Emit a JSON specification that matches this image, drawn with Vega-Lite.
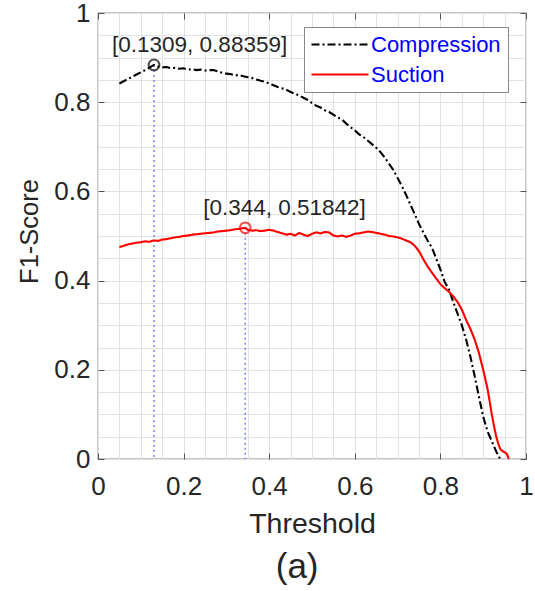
{
  "$schema": "https://vega.github.io/schema/vega-lite/v6.json",
  "width": 428,
  "height": 446,
  "autosize": {"type": "none"},
  "padding": {"left": 98, "top": 13, "right": 9, "bottom": 132},
  "background": "white",
  "config": {
    "font": "Liberation Sans",
    "view": {"stroke": "#8c8c8c", "strokeWidth": 1.3}
  },
  "title": {
    "text": "(a)",
    "orient": "bottom",
    "frame": "bounds",
    "anchor": "middle",
    "baseline": "top",
    "offset": 12,
    "dx": 22,
    "font": "Liberation Sans",
    "fontSize": 35,
    "fontWeight": "normal",
    "color": "#262626"
  },
  "datasets": {
    "curves": [
      {"t": 0.05, "f": 0.842, "series": "Compression"},
      {"t": 0.07, "f": 0.852, "series": "Compression"},
      {"t": 0.09, "f": 0.862, "series": "Compression"},
      {"t": 0.11, "f": 0.872, "series": "Compression"},
      {"t": 0.1309, "f": 0.88359, "series": "Compression"},
      {"t": 0.14, "f": 0.880, "series": "Compression"},
      {"t": 0.15, "f": 0.878, "series": "Compression"},
      {"t": 0.16, "f": 0.879, "series": "Compression"},
      {"t": 0.17, "f": 0.876, "series": "Compression"},
      {"t": 0.18, "f": 0.877, "series": "Compression"},
      {"t": 0.19, "f": 0.875, "series": "Compression"},
      {"t": 0.20, "f": 0.876, "series": "Compression"},
      {"t": 0.21, "f": 0.873, "series": "Compression"},
      {"t": 0.22, "f": 0.874, "series": "Compression"},
      {"t": 0.23, "f": 0.872, "series": "Compression"},
      {"t": 0.24, "f": 0.873, "series": "Compression"},
      {"t": 0.25, "f": 0.871, "series": "Compression"},
      {"t": 0.26, "f": 0.872, "series": "Compression"},
      {"t": 0.27, "f": 0.872, "series": "Compression"},
      {"t": 0.28, "f": 0.869, "series": "Compression"},
      {"t": 0.29, "f": 0.866, "series": "Compression"},
      {"t": 0.30, "f": 0.864, "series": "Compression"},
      {"t": 0.31, "f": 0.863, "series": "Compression"},
      {"t": 0.32, "f": 0.860, "series": "Compression"},
      {"t": 0.33, "f": 0.861, "series": "Compression"},
      {"t": 0.34, "f": 0.858, "series": "Compression"},
      {"t": 0.35, "f": 0.856, "series": "Compression"},
      {"t": 0.36, "f": 0.854, "series": "Compression"},
      {"t": 0.37, "f": 0.851, "series": "Compression"},
      {"t": 0.38, "f": 0.848, "series": "Compression"},
      {"t": 0.39, "f": 0.846, "series": "Compression"},
      {"t": 0.40, "f": 0.842, "series": "Compression"},
      {"t": 0.41, "f": 0.838, "series": "Compression"},
      {"t": 0.42, "f": 0.834, "series": "Compression"},
      {"t": 0.43, "f": 0.831, "series": "Compression"},
      {"t": 0.44, "f": 0.828, "series": "Compression"},
      {"t": 0.45, "f": 0.823, "series": "Compression"},
      {"t": 0.46, "f": 0.819, "series": "Compression"},
      {"t": 0.47, "f": 0.815, "series": "Compression"},
      {"t": 0.48, "f": 0.810, "series": "Compression"},
      {"t": 0.49, "f": 0.805, "series": "Compression"},
      {"t": 0.50, "f": 0.798, "series": "Compression"},
      {"t": 0.51, "f": 0.792, "series": "Compression"},
      {"t": 0.52, "f": 0.788, "series": "Compression"},
      {"t": 0.53, "f": 0.782, "series": "Compression"},
      {"t": 0.54, "f": 0.778, "series": "Compression"},
      {"t": 0.55, "f": 0.772, "series": "Compression"},
      {"t": 0.56, "f": 0.766, "series": "Compression"},
      {"t": 0.57, "f": 0.761, "series": "Compression"},
      {"t": 0.58, "f": 0.752, "series": "Compression"},
      {"t": 0.59, "f": 0.744, "series": "Compression"},
      {"t": 0.60, "f": 0.737, "series": "Compression"},
      {"t": 0.61, "f": 0.728, "series": "Compression"},
      {"t": 0.62, "f": 0.722, "series": "Compression"},
      {"t": 0.63, "f": 0.714, "series": "Compression"},
      {"t": 0.64, "f": 0.706, "series": "Compression"},
      {"t": 0.65, "f": 0.698, "series": "Compression"},
      {"t": 0.66, "f": 0.688, "series": "Compression"},
      {"t": 0.67, "f": 0.676, "series": "Compression"},
      {"t": 0.68, "f": 0.662, "series": "Compression"},
      {"t": 0.69, "f": 0.648, "series": "Compression"},
      {"t": 0.70, "f": 0.630, "series": "Compression"},
      {"t": 0.71, "f": 0.612, "series": "Compression"},
      {"t": 0.72, "f": 0.592, "series": "Compression"},
      {"t": 0.73, "f": 0.570, "series": "Compression"},
      {"t": 0.74, "f": 0.549, "series": "Compression"},
      {"t": 0.75, "f": 0.527, "series": "Compression"},
      {"t": 0.76, "f": 0.508, "series": "Compression"},
      {"t": 0.77, "f": 0.490, "series": "Compression"},
      {"t": 0.78, "f": 0.474, "series": "Compression"},
      {"t": 0.79, "f": 0.450, "series": "Compression"},
      {"t": 0.80, "f": 0.425, "series": "Compression"},
      {"t": 0.81, "f": 0.397, "series": "Compression"},
      {"t": 0.82, "f": 0.380, "series": "Compression"},
      {"t": 0.83, "f": 0.352, "series": "Compression"},
      {"t": 0.84, "f": 0.326, "series": "Compression"},
      {"t": 0.85, "f": 0.300, "series": "Compression"},
      {"t": 0.86, "f": 0.268, "series": "Compression"},
      {"t": 0.87, "f": 0.230, "series": "Compression"},
      {"t": 0.88, "f": 0.186, "series": "Compression"},
      {"t": 0.89, "f": 0.140, "series": "Compression"},
      {"t": 0.90, "f": 0.095, "series": "Compression"},
      {"t": 0.91, "f": 0.062, "series": "Compression"},
      {"t": 0.92, "f": 0.040, "series": "Compression"},
      {"t": 0.93, "f": 0.018, "series": "Compression"},
      {"t": 0.935, "f": 0.008, "series": "Compression"},
      {"t": 0.94, "f": 0.0, "series": "Compression"},
      {"t": 0.05, "f": 0.475, "series": "Suction"},
      {"t": 0.06, "f": 0.478, "series": "Suction"},
      {"t": 0.07, "f": 0.481, "series": "Suction"},
      {"t": 0.08, "f": 0.483, "series": "Suction"},
      {"t": 0.09, "f": 0.485, "series": "Suction"},
      {"t": 0.10, "f": 0.486, "series": "Suction"},
      {"t": 0.11, "f": 0.488, "series": "Suction"},
      {"t": 0.12, "f": 0.487, "series": "Suction"},
      {"t": 0.13, "f": 0.490, "series": "Suction"},
      {"t": 0.14, "f": 0.489, "series": "Suction"},
      {"t": 0.15, "f": 0.492, "series": "Suction"},
      {"t": 0.16, "f": 0.493, "series": "Suction"},
      {"t": 0.17, "f": 0.495, "series": "Suction"},
      {"t": 0.18, "f": 0.497, "series": "Suction"},
      {"t": 0.19, "f": 0.498, "series": "Suction"},
      {"t": 0.20, "f": 0.500, "series": "Suction"},
      {"t": 0.21, "f": 0.501, "series": "Suction"},
      {"t": 0.22, "f": 0.503, "series": "Suction"},
      {"t": 0.23, "f": 0.504, "series": "Suction"},
      {"t": 0.24, "f": 0.505, "series": "Suction"},
      {"t": 0.25, "f": 0.506, "series": "Suction"},
      {"t": 0.26, "f": 0.507, "series": "Suction"},
      {"t": 0.27, "f": 0.508, "series": "Suction"},
      {"t": 0.28, "f": 0.510, "series": "Suction"},
      {"t": 0.29, "f": 0.511, "series": "Suction"},
      {"t": 0.30, "f": 0.512, "series": "Suction"},
      {"t": 0.31, "f": 0.513, "series": "Suction"},
      {"t": 0.32, "f": 0.515, "series": "Suction"},
      {"t": 0.33, "f": 0.516, "series": "Suction"},
      {"t": 0.344, "f": 0.51842, "series": "Suction"},
      {"t": 0.35, "f": 0.514, "series": "Suction"},
      {"t": 0.36, "f": 0.512, "series": "Suction"},
      {"t": 0.37, "f": 0.513, "series": "Suction"},
      {"t": 0.38, "f": 0.511, "series": "Suction"},
      {"t": 0.39, "f": 0.512, "series": "Suction"},
      {"t": 0.40, "f": 0.514, "series": "Suction"},
      {"t": 0.41, "f": 0.512, "series": "Suction"},
      {"t": 0.42, "f": 0.509, "series": "Suction"},
      {"t": 0.43, "f": 0.506, "series": "Suction"},
      {"t": 0.44, "f": 0.503, "series": "Suction"},
      {"t": 0.45, "f": 0.505, "series": "Suction"},
      {"t": 0.46, "f": 0.501, "series": "Suction"},
      {"t": 0.47, "f": 0.507, "series": "Suction"},
      {"t": 0.48, "f": 0.503, "series": "Suction"},
      {"t": 0.49, "f": 0.500, "series": "Suction"},
      {"t": 0.50, "f": 0.505, "series": "Suction"},
      {"t": 0.51, "f": 0.508, "series": "Suction"},
      {"t": 0.52, "f": 0.506, "series": "Suction"},
      {"t": 0.53, "f": 0.509, "series": "Suction"},
      {"t": 0.54, "f": 0.508, "series": "Suction"},
      {"t": 0.55, "f": 0.501, "series": "Suction"},
      {"t": 0.56, "f": 0.499, "series": "Suction"},
      {"t": 0.57, "f": 0.501, "series": "Suction"},
      {"t": 0.58, "f": 0.498, "series": "Suction"},
      {"t": 0.59, "f": 0.501, "series": "Suction"},
      {"t": 0.60, "f": 0.505, "series": "Suction"},
      {"t": 0.61, "f": 0.506, "series": "Suction"},
      {"t": 0.62, "f": 0.508, "series": "Suction"},
      {"t": 0.63, "f": 0.510, "series": "Suction"},
      {"t": 0.64, "f": 0.509, "series": "Suction"},
      {"t": 0.65, "f": 0.507, "series": "Suction"},
      {"t": 0.66, "f": 0.505, "series": "Suction"},
      {"t": 0.67, "f": 0.503, "series": "Suction"},
      {"t": 0.68, "f": 0.500, "series": "Suction"},
      {"t": 0.69, "f": 0.499, "series": "Suction"},
      {"t": 0.70, "f": 0.497, "series": "Suction"},
      {"t": 0.71, "f": 0.494, "series": "Suction"},
      {"t": 0.72, "f": 0.490, "series": "Suction"},
      {"t": 0.73, "f": 0.486, "series": "Suction"},
      {"t": 0.74, "f": 0.478, "series": "Suction"},
      {"t": 0.75, "f": 0.466, "series": "Suction"},
      {"t": 0.76, "f": 0.448, "series": "Suction"},
      {"t": 0.77, "f": 0.432, "series": "Suction"},
      {"t": 0.78, "f": 0.418, "series": "Suction"},
      {"t": 0.79, "f": 0.405, "series": "Suction"},
      {"t": 0.80, "f": 0.392, "series": "Suction"},
      {"t": 0.81, "f": 0.383, "series": "Suction"},
      {"t": 0.82, "f": 0.375, "series": "Suction"},
      {"t": 0.83, "f": 0.365, "series": "Suction"},
      {"t": 0.84, "f": 0.352, "series": "Suction"},
      {"t": 0.85, "f": 0.335, "series": "Suction"},
      {"t": 0.86, "f": 0.312, "series": "Suction"},
      {"t": 0.87, "f": 0.292, "series": "Suction"},
      {"t": 0.88, "f": 0.268, "series": "Suction"},
      {"t": 0.89, "f": 0.238, "series": "Suction"},
      {"t": 0.90, "f": 0.200, "series": "Suction"},
      {"t": 0.91, "f": 0.158, "series": "Suction"},
      {"t": 0.915, "f": 0.130, "series": "Suction"},
      {"t": 0.92, "f": 0.100, "series": "Suction"},
      {"t": 0.925, "f": 0.075, "series": "Suction"},
      {"t": 0.93, "f": 0.052, "series": "Suction"},
      {"t": 0.935, "f": 0.035, "series": "Suction"},
      {"t": 0.94, "f": 0.022, "series": "Suction"},
      {"t": 0.945, "f": 0.018, "series": "Suction"},
      {"t": 0.95, "f": 0.015, "series": "Suction"},
      {"t": 0.955, "f": 0.012, "series": "Suction"},
      {"t": 0.96, "f": 0.0, "series": "Suction"}
    ],
    "peaks": [
      {"t": 0.1309, "f": 0.88359, "series": "Compression", "label": "[0.1309, 0.88359]"},
      {"t": 0.344, "f": 0.51842, "series": "Suction", "label": "[0.344, 0.51842]"}
    ]
  },
  "layer": [
    {
      "data": {"name": "peaks"},
      "mark": {"type": "rule", "color": "#6a6aff", "strokeWidth": 1.3, "strokeDash": [2, 3]},
      "encoding": {
        "x": {
          "field": "t", "type": "quantitative",
          "scale": {"domain": [0, 1], "nice": false, "zero": false},
          "axis": {
            "orient": "bottom",
            "title": "Threshold",
            "titleFont": "Liberation Sans", "titleFontSize": 28.5, "titleFontWeight": "normal", "titleColor": "#262626",
            "titleY": 73, "titleBaseline": "alphabetic",
            "values": [0, 0.05, 0.1, 0.15, 0.2, 0.25, 0.3, 0.35, 0.4, 0.45, 0.5, 0.55, 0.6, 0.65, 0.7, 0.75, 0.8, 0.85, 0.9, 0.95, 1],
            "labelExpr": "abs(datum.value*5 - round(datum.value*5)) < 0.001 ? format(datum.value, '~g') : ''",
            "labelFont": "Liberation Sans", "labelFontSize": 26, "labelColor": "#262626",
            "labelFlush": false, "labelOverlap": false, "labelPadding": 20,
            "domain": false,
            "grid": true, "gridColor": "#e2e2e2", "gridWidth": 1,
            "ticks": true, "tickSize": -6, "tickColor": "#555555", "tickWidth": 1,
            "tickOpacity": {"condition": {"test": "abs(datum.value*5 - round(datum.value*5)) < 0.001", "value": 1}, "value": 0}
          }
        },
        "y": {
          "field": "f", "type": "quantitative",
          "scale": {"domain": [0, 1], "nice": false, "zero": false},
          "axis": {
            "orient": "left",
            "title": "F1-Score",
            "titleFont": "Liberation Sans", "titleFontSize": 25.5, "titleFontWeight": "normal", "titleColor": "#262626",
            "titleX": -61, "titleY": 218, "titleBaseline": "alphabetic",
            "values": [0, 0.05, 0.1, 0.15, 0.2, 0.25, 0.3, 0.35, 0.4, 0.45, 0.5, 0.55, 0.6, 0.65, 0.7, 0.75, 0.8, 0.85, 0.9, 0.95, 1],
            "labelExpr": "abs(datum.value*5 - round(datum.value*5)) < 0.001 ? format(datum.value, '~g') : ''",
            "labelFont": "Liberation Sans", "labelFontSize": 26, "labelColor": "#262626",
            "labelFlush": false, "labelOverlap": false, "labelPadding": 14,
            "domain": false,
            "grid": true, "gridColor": "#e2e2e2", "gridWidth": 1,
            "ticks": true, "tickSize": -6, "tickColor": "#555555", "tickWidth": 1,
            "tickOpacity": {"condition": {"test": "abs(datum.value*5 - round(datum.value*5)) < 0.001", "value": 1}, "value": 0}
          }
        },
        "y2": {"datum": 0}
      }
    },
    {
      "data": {"name": "curves"},
      "mark": {"type": "line", "strokeWidth": 2.1},
      "encoding": {
        "x": {
          "field": "t", "type": "quantitative",
          "axis": {"orient": "top", "title": null, "values": [0, 0.2, 0.4, 0.6, 0.8, 1], "labels": false, "domain": false, "grid": false, "ticks": true, "tickSize": -6, "tickColor": "#555555"}
        },
        "y": {
          "field": "f", "type": "quantitative",
          "axis": {"orient": "right", "title": null, "values": [0, 0.2, 0.4, 0.6, 0.8, 1], "labels": false, "domain": false, "grid": false, "ticks": true, "tickSize": -6, "tickColor": "#555555"}
        },
        "color": {
          "field": "series", "type": "nominal",
          "scale": {"domain": ["Compression", "Suction"], "range": ["#000000", "#ff0000"]},
          "legend": {
            "title": null,
            "orient": "none", "legendX": 206, "legendY": 14,
            "symbolType": "M-3,0H3", "symbolSize": 361, "symbolStrokeWidth": 2, "symbolOffset": 18.5,
            "labelFont": "Liberation Sans", "labelFontSize": 22, "labelColor": "#0000ff", "labelOffset": 20,
            "strokeColor": "#888888", "fillColor": "white", "padding": 6.5, "rowPadding": 8
          }
        },
        "strokeDash": {
          "field": "series", "type": "nominal",
          "scale": {"domain": ["Compression", "Suction"], "range": [[8, 3, 2, 3], [1, 0]]}
        },
        "order": {"field": "t", "type": "quantitative"}
      }
    },
    {
      "data": {"name": "peaks"},
      "mark": {"type": "point", "shape": "circle", "filled": false, "size": 115, "strokeWidth": 2},
      "encoding": {
        "x": {"field": "t", "type": "quantitative", "axis": null},
        "y": {"field": "f", "type": "quantitative", "axis": null},
        "stroke": {
          "field": "series", "type": "nominal",
          "scale": {"domain": ["Compression", "Suction"], "range": ["#000000", "#ff0000"]},
          "legend": null
        }
      }
    },
    {
      "data": {"name": "peaks"},
      "mark": {"type": "text", "align": "left", "baseline": "middle", "dx": -42, "dy": -20, "font": "Liberation Sans", "fontSize": 22.5, "color": "#262626"},
      "encoding": {
        "x": {"field": "t", "type": "quantitative", "axis": null},
        "y": {"field": "f", "type": "quantitative", "axis": null},
        "text": {"field": "label"}
      }
    }
  ],
  "resolve": {"axis": {"x": "independent", "y": "independent"}}
}
